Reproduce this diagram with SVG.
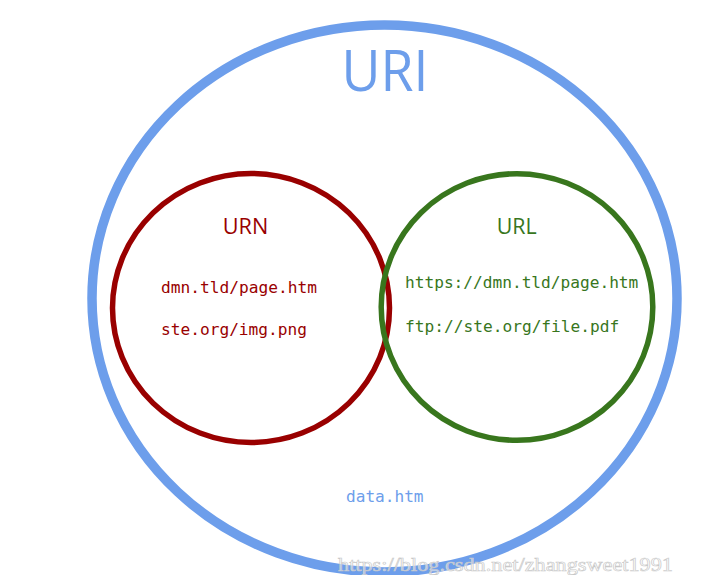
<svg xmlns="http://www.w3.org/2000/svg" width="711" height="575" viewBox="0 0 711 575">
<style>
.ring{fill:none}
.lbl{font-family:"Open Sans","Liberation Sans",sans-serif;text-anchor:middle}
.mono{font-family:"DejaVu Sans Mono","Liberation Mono",monospace;font-size:16px}
</style>
<rect width="711" height="575" fill="#ffffff"/>
<g id="uri">
<ellipse class="ring" cx="384.5" cy="298.5" rx="292.5" ry="273.5" stroke="#6d9eeb" stroke-width="9.5"/>
<text class="lbl" x="385" y="91" font-size="57" fill="#6d9eeb" textLength="87" lengthAdjust="spacingAndGlyphs">URI</text>
<text class="mono" x="346" y="501.5" fill="#6d9eeb" textLength="77.5" lengthAdjust="spacingAndGlyphs">data.htm</text>
</g>
<g id="urn">
<ellipse class="ring" cx="251" cy="308" rx="138.5" ry="134.5" stroke="#990000" stroke-width="5.5"/>
<text class="lbl" x="245.5" y="234" font-size="22" fill="#990000" textLength="45.5" lengthAdjust="spacingAndGlyphs">URN</text>
<text class="mono" x="161" y="292.5" fill="#990000" textLength="156" lengthAdjust="spacingAndGlyphs">dmn.tld/page.htm</text>
<text class="mono" x="161" y="335" fill="#990000" textLength="146" lengthAdjust="spacingAndGlyphs">ste.org/img.png</text>
</g>
<g id="url">
<ellipse class="ring" cx="517" cy="307" rx="135.8" ry="133.3" stroke="#38761d" stroke-width="5.5"/>
<text class="lbl" x="516.7" y="234.3" font-size="22" fill="#38761d" textLength="40" lengthAdjust="spacingAndGlyphs">URL</text>
<text class="mono" x="405" y="288.3" fill="#38761d" textLength="233.3" lengthAdjust="spacingAndGlyphs">https://dmn.tld/page.htm</text>
<text class="mono" x="405" y="331.7" fill="#38761d" textLength="214.3" lengthAdjust="spacingAndGlyphs">ftp://ste.org/file.pdf</text>
</g>
<g id="watermark">
<text x="338" y="571" font-family="'Liberation Serif',serif" font-size="18" fill="#ffffff" fill-opacity="0.55" stroke="#c8c8c8" stroke-width="0.6" textLength="335" lengthAdjust="spacingAndGlyphs">https://blog.csdn.net/zhangsweet1991</text>
</g>
</svg>
